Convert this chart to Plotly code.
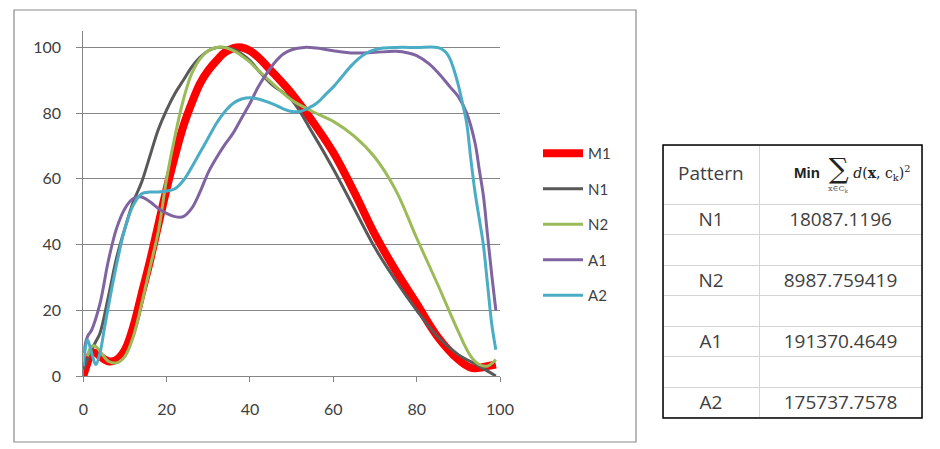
import plotly.graph_objects as go

# The page body has an 8px margin, so the figure is drawn 8px in and sized to fit.
OFF = 8
W, H = 940 - OFF, 449 - OFF

# ---- data ----
m1_x = [0,1,2,3,4,6,8,10,12,14,16,18,20,22,24,26,28,30,32,34,36,38,40,42,45,50,55,60,65,70,75,80,85,90,93,95,97,99]
m1_y = [0,4,7,7,6,4.5,5,8,15,25,35,46,57,67,76,83,89,93,96,98.5,99.8,100,99,97,93,86,77.5,68,56,43,32,22,12,5,2.5,2.5,3,3.5]

n1_x = [0,1,2,3,4,6,8,10,12,14,16,18,20,22,24,26,28,30,32,34,36,38,40,42,45,50,55,60,65,70,75,80,85,90,95,99]
n1_y = [2,5,8,10.5,13,24,36,45,53,59,67,75,81,86,90,94,97,99,100,100,99.5,98,96,93,89,84,74,63,51,39,29,20,12,6.5,3,0]

n2_x = [1,2,3,4,6,8,10,12,14,16,18,20,22,24,26,28,30,32,34,36,38,40,42,45,50,55,60,65,70,75,80,85,90,93,95,97,99]
n2_y = [6,9,9,7.5,4.5,4,6,12,22,33,44,60,73,84,92,96.5,99,100,100,99,97.5,95.5,93,89.5,84,80.5,77.5,73,66.5,56.5,42,28,13.5,6,3.5,3,5]

a1_x = [0,1,2,4,6,8,10,12,14,16,18,20,22,24,26,28,30,32,34,36,38,40,42,44,46,48,50,53,56,60,65,70,75,78,80,83,85,88,90,92,94,95,96,97,98,99]
a1_y = [7,12,14,22,35,45,51,54,54.5,53,51,49.5,48.5,48.5,51,56,62,66.5,70.5,74,78.5,83,88,92,95.5,98,99.3,100,99.8,99,98.3,98.5,98.8,98.3,97.5,95,92.5,88,85,80,71,63,55,43,31,20]

a2_x = [0,1,2,3,4,5,6,8,10,12,14,16,18,20,22,24,26,28,30,32,34,36,38,40,42,44,46,48,50,52,54,56,58,60,62,64,66,68,70,72,75,80,85,86,87,88,89,90,91,92,93,94,95,96,97,98,99]
a2_y = [3,11,7,3.5,7,14,21,34,45,52,55.5,56,56,56.3,57,59.5,63.5,68,72.5,77,80.5,83,84.3,84.7,84.3,83.5,82.5,81.3,80.5,80.5,81.5,83,85.5,88,91,94,96.5,98.3,99.3,99.8,100,100,100,99.5,98.5,96.5,93,88.5,83,77,66,56,48,40,28,16,8]

series_names = ["M1", "N1", "N2", "A1", "A2"]
x_ticks = [0, 20, 40, 60, 80, 100]
y_ticks = [0, 20, 40, 60, 80, 100]

table_patterns = ["N1", "", "N2", "", "A1", "", "A2"]
table_values = ["18087.1196", "", "8987.759419", "", "191370.4649", "", "175737.7578"]
table_header_pattern = "Pattern"

# ---- styling ----
colors = ["#FF0000", "#595959", "#9BBB59", "#8064A2", "#4BACC6"]
widths = [8, 3, 3, 3, 3]
FONT = "Lato"
TFONT = "Open Sans"
TXT = "#404040"

fig = go.Figure()
for i, (nm, xs, ys) in enumerate(zip(series_names,
                                      [m1_x, n1_x, n2_x, a1_x, a2_x],
                                      [m1_y, n1_y, n2_y, a1_y, a2_y])):
    fig.add_trace(go.Scatter(x=xs, y=ys, name=nm, mode="lines",
                             line=dict(color=colors[i], width=widths[i], shape="spline", smoothing=1.0),
                             legendgroup=nm, xaxis="x", yaxis="y"))

def px(x):
    return (x - OFF) / W

def py(y):
    return 1 - (y - OFF) / H

fig.add_trace(go.Table(
    domain=dict(x=[px(663), px(922)], y=[py(418), py(145)]),
    columnwidth=[96, 163],
    header=dict(values=["", ""], height=59, fill_color="white",
                line=dict(color="#d4d4d4", width=1),
                font=dict(family=TFONT, size=19, color=TXT), align="center"),
    cells=dict(values=[table_patterns, table_values], height=30.5, fill_color="white",
               line=dict(color="#d4d4d4", width=1),
               font=dict(family=TFONT, size=19, color=TXT), align="center"),
))

fig.update_layout(
    width=W, height=H,
    margin=dict(l=0, r=0, t=0, b=0),
    paper_bgcolor="white", plot_bgcolor="white",
    font=dict(family=FONT, size=16, color=TXT),
    xaxis=dict(domain=[px(83.3), px(500)], range=[0, 100], tickvals=x_ticks,
               ticks="outside", ticklen=5, tickcolor="#868686", tickwidth=1,
               showline=True, linecolor="#868686", linewidth=1,
               showgrid=False, zeroline=False, automargin=False,
               ticklabelstandoff=14, tickfont=dict(family=FONT, size=16, color=TXT)),
    yaxis=dict(domain=[py(376), py(31)], range=[0, 105], tickvals=y_ticks,
               ticks="outside", ticklen=6, tickcolor="#868686", tickwidth=1,
               showline=True, linecolor="#868686", linewidth=1,
               showgrid=True, gridcolor="#868686", gridwidth=1,
               zeroline=False, automargin=False,
               ticklabelstandoff=12, tickfont=dict(family=FONT, size=16, color=TXT)),
    showlegend=True,
    legend=dict(x=px(538), y=py(137), xanchor="left", yanchor="top",
                font=dict(family=FONT, size=15, color=TXT),
                tracegroupgap=13, itemwidth=40, bgcolor="rgba(0,0,0,0)"),
    shapes=[
        dict(type="rect", xref="paper", yref="paper",
             x0=px(14), x1=px(636), y0=py(442), y1=py(10),
             line=dict(color="#8a8a8a", width=1.2), fillcolor="rgba(0,0,0,0)", layer="below"),
        dict(type="rect", xref="paper", yref="paper",
             x0=px(663), x1=px(922), y0=py(418), y1=py(145),
             line=dict(color="black", width=1.5), fillcolor="rgba(0,0,0,0)", layer="above"),
    ],
    annotations=[
        dict(xref="paper", yref="paper", x=px(711), y=py(173), xanchor="center", yanchor="middle",
             showarrow=False, text=table_header_pattern,
             font=dict(family=TFONT, size=19, color=TXT)),
        dict(xref="paper", yref="paper", x=px(852), y=py(168), xanchor="center", yanchor="middle",
             showarrow=False,
             text="<span style='font-family:Liberation Sans;font-size:15px'><b>Min</b></span>  <span style='font-size:28px'>∑</span> <i>d</i>(<b>x</b>, c<sub>k</sub>)<sup>2</sup>",
             font=dict(family="DejaVu Serif", size=14, color="#222")),
        dict(xref="paper", yref="paper", x=px(838), y=py(189), xanchor="center", yanchor="middle",
             showarrow=False, text="x∈C<sub>k</sub>",
             font=dict(family="DejaVu Serif", size=8, color="#555")),
    ],
)

fig.write_html("out.html")
